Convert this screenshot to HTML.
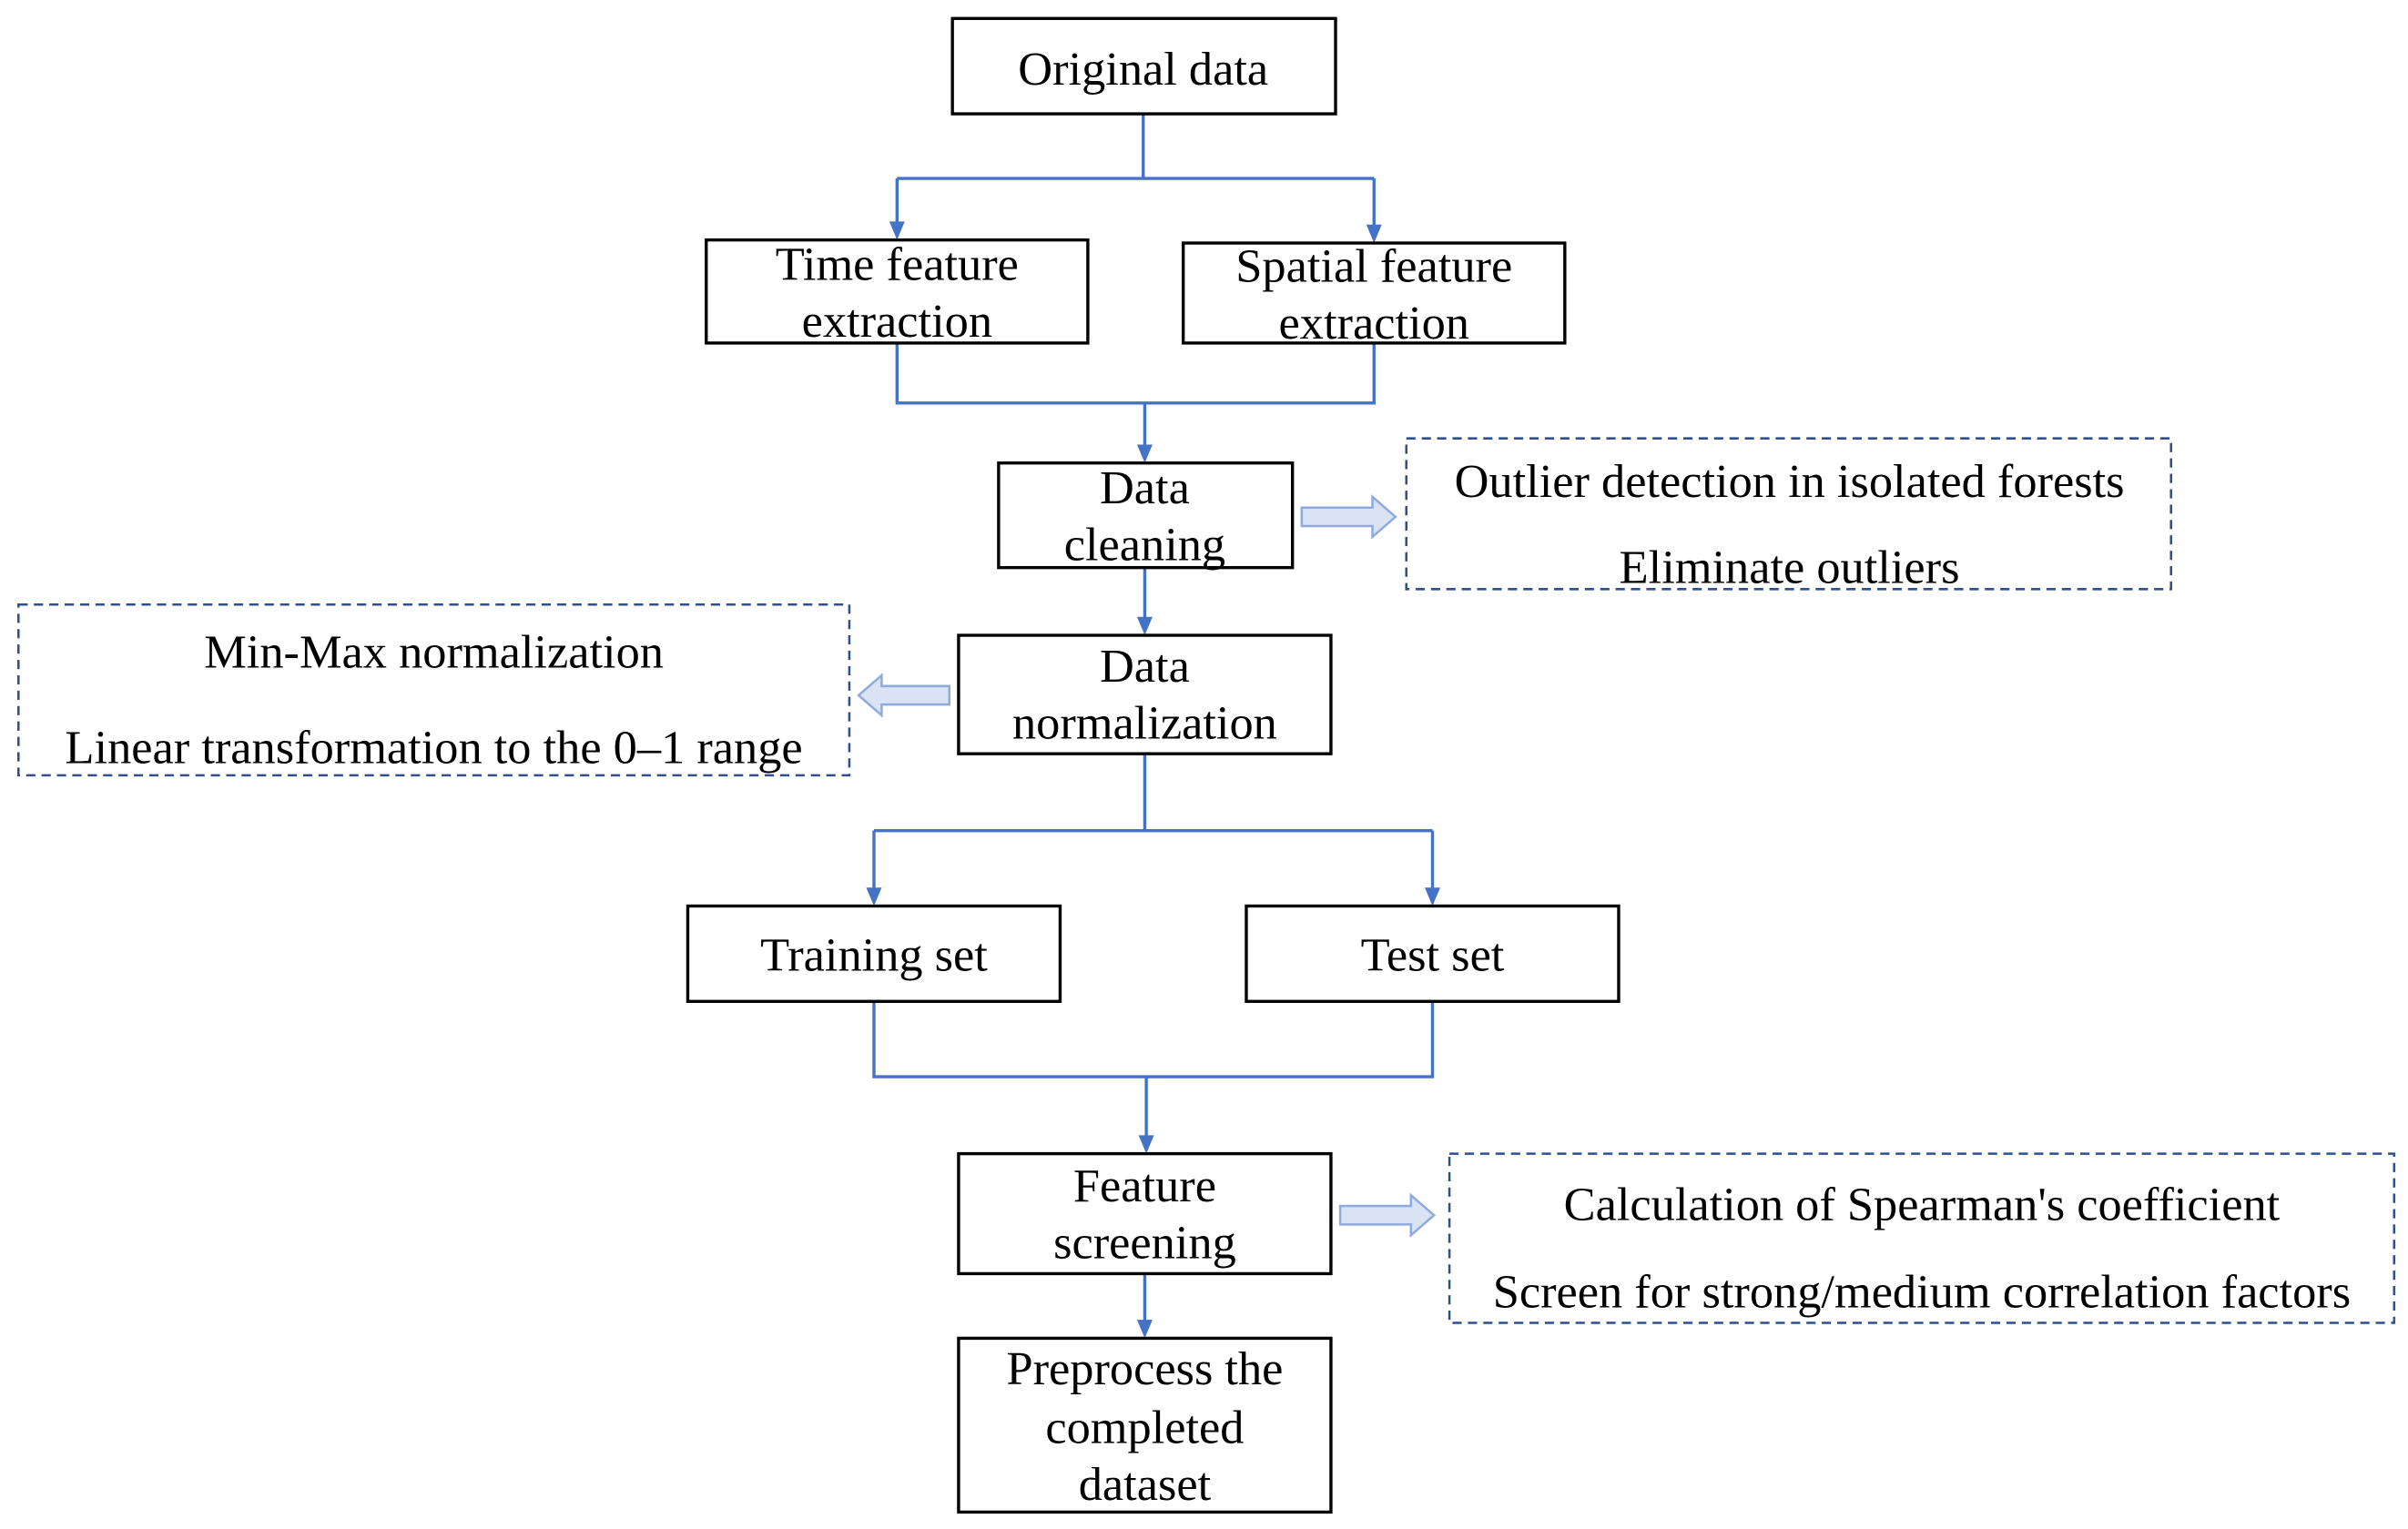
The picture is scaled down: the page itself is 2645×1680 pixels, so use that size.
<!DOCTYPE html>
<html><head><meta charset="utf-8"><style>html,body{margin:0;padding:0;background:#fff}svg{display:block}text{font-family:"Liberation Serif","Times New Roman",serif}</style></head>
<body>
<svg width="2645" height="1680" viewBox="0 0 1565 994" preserveAspectRatio="none" xmlns="http://www.w3.org/2000/svg">
<g fill="none" stroke="#4472C4" stroke-width="2">
<path d="M743,74 V116 M583,116 H893"/>
<path d="M583,116 V146"/>
<path d="M893,116 V148"/>
<path d="M583,223 V262 H893 V223"/>
<path d="M744,262 V291"/>
<path d="M744,369 V403"/>
<path d="M744,490 V540 M568,540 H931"/>
<path d="M568,540 V579"/>
<path d="M931,540 V579"/>
<path d="M568,651 V700 H931 V651"/>
<path d="M745,700 V740"/>
<path d="M744,828 V860"/>
</g>
<g fill="#4472C4">
<path d="M578,144 H588 L583,156 z"/>
<path d="M888,146 H898 L893,158 z"/>
<path d="M739,289 H749 L744,301 z"/>
<path d="M739,401 H749 L744,413 z"/>
<path d="M563,577 H573 L568,589 z"/>
<path d="M926,577 H936 L931,589 z"/>
<path d="M740,738 H750 L745,750 z"/>
<path d="M739,858 H749 L744,870 z"/>
</g>
<g fill="#dae3f3" stroke="#8faadc" stroke-width="1.5">
<path d="M846,330 H892 V323 L907,336 L892,349 V342 H846 z"/>
<path d="M617,446 H573 V439 L558,452 L573,465 V458 H617 z"/>
<path d="M871,784 H917 V777 L932,790 L917,803 V796 H871 z"/>
</g>
<g fill="none" stroke="#000" stroke-width="2">
<rect x="619" y="12" width="249" height="62"/>
<rect x="459" y="156" width="248" height="67"/>
<rect x="769" y="158" width="248" height="65"/>
<rect x="649" y="301" width="191" height="68"/>
<rect x="623" y="413" width="242" height="77"/>
<rect x="447" y="589" width="242" height="62"/>
<rect x="810" y="589" width="242" height="62"/>
<rect x="623" y="750" width="242" height="78"/>
<rect x="623" y="870" width="242" height="113"/>
</g>
<g fill="none" stroke="#2F4F8F" stroke-width="1.5" stroke-dasharray="6,4">
<rect x="914" y="285" width="497" height="98"/>
<rect x="12" y="393" width="540" height="111"/>
<rect x="942" y="750" width="614" height="110"/>
</g>
<g font-size="31" text-anchor="middle" dominant-baseline="central" fill="#000">
<text x="743" y="45">Original data</text>
<text x="583" y="172">Time feature</text><text x="583" y="209">extraction</text>
<text x="893" y="173">Spatial feature</text><text x="893" y="210">extraction</text>
<text x="744" y="317">Data</text><text x="744" y="354">cleaning</text>
<text x="1163" y="313">Outlier detection in isolated forests</text>
<text x="1163" y="369">Eliminate outliers</text>
<text x="744" y="433">Data</text><text x="744" y="470">normalization</text>
<text x="282" y="424">Min-Max normalization</text>
<text x="282" y="486">Linear transformation to the 0–1 range</text>
<text x="568" y="621">Training set</text>
<text x="931" y="621">Test set</text>
<text x="744" y="771">Feature</text><text x="744" y="808">screening</text>
<text x="1249" y="783">Calculation of Spearman's coefficient</text>
<text x="1249" y="840">Screen for strong/medium correlation factors</text>
<text x="744" y="890">Preprocess the</text><text x="744" y="928">completed</text><text x="744" y="965">dataset</text>
</g>
</svg>
</body></html>
